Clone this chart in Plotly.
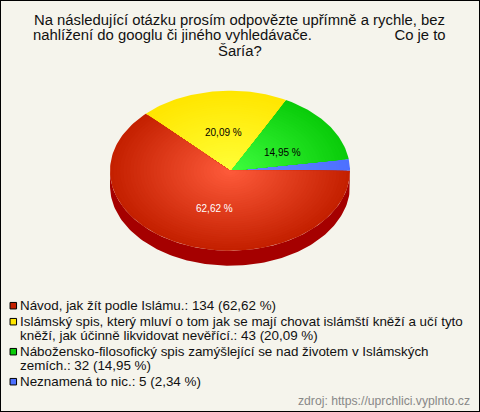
import math
import plotly.graph_objects as go

# ---- data ----
categories = [
    "Neznamená to nic.",
    "Nábožensko-filosofický spis",
    "Islámský spis",
    "Návod, jak žít podle Islámu.",
]
counts = [5, 32, 43, 134]
percent_texts = ["2,34 %", "14,95 %", "20,09 %", "62,62 %"]
title_lines = [
    "Na následující otázku prosím odpovězte upřímně a rychle, bez",
    "nahlížení do googlu či jiného vyhledávače.\u00a0\u00a0\u00a0\u00a0\u00a0\u00a0\u00a0\u00a0\u00a0\u00a0\u00a0\u00a0\u00a0\u00a0\u00a0\u00a0\u00a0\u00a0\u00a0\u00a0Co je to",
    "Šaría?",
]
legend_items = [
    ["Návod, jak žít podle Islámu.: 134 (62,62 %)"],
    ["Islámský spis, který mluví o tom jak se mají chovat islámští kněží a učí tyto",
     "kněží, jak účinně likvidovat nevěřící.: 43 (20,09 %)"],
    ["Nábožensko-filosofický spis zamýšlející se nad životem v Islámských",
     "zemích.: 32 (14,95 %)"],
    ["Neznamená to nic.: 5 (2,34 %)"],
]
source_text = "zdroj: https://uprchlici.vyplnto.cz"

# ---- style ----
BG = "#F5F4EC"
inner_colors = [(0x66, 0x88, 0xFF), (0x40, 0xFF, 0x40), (0xFF, 0xFF, 0x38), (0xFF, 0x5C, 0x3C)]
outer_colors = [(0x4D, 0x70, 0xFF), (0x0A, 0xCC, 0x0A), (0xFF, 0xE6, 0x00), (0xC4, 0x20, 0x00)]
legend_colors = ["#C42000", "#FFE600", "#0ACC0A", "#4D70FF"]
SIDE = "#A50000"
CX, CY, RX, RY, DEPTH = 230, 170.7, 120, 80, 15
RINGS = 36
label_xy = [None, (282, 152), (223.5, 132), (214, 208)]
label_col = ["black", "black", "black", "white"]
legend_y = [305.7, 321.7, 335.7, 351.7, 365.7, 381.7]
FONT = "Liberation Sans, Arial, sans-serif"

fig = go.Figure()
total = sum(counts)


def arc(a0, a1, s=1.0, dy=0.0):
    n = max(2, int(abs(a1 - a0) / 1.5))
    xs, ys = [], []
    for i in range(n + 1):
        a = math.radians(a0 + (a1 - a0) * i / n)
        xs.append(CX + s * RX * math.cos(a))
        ys.append(CY + dy - s * RY * math.sin(a))
    return xs, ys


def poly(xs, ys, color):
    fig.add_trace(go.Scatter(x=xs, y=ys, mode="lines", fill="toself", fillcolor=color,
                             line=dict(width=0, color=color), hoverinfo="skip", showlegend=False))


# side of the pie: every slice part in the lower half
start = 0.0
for c in counts:
    end = start + c / total * 360
    lo, hi = max(start, 180), min(end, 360)
    if hi > lo:
        xa, ya = arc(lo, hi)
        xb, yb = arc(hi, lo, dy=DEPTH)
        poly(xa + xb, ya + yb, SIDE)
    start = end

# top surface with a radial gradient built from nested wedges
start = 0.0
for idx, c in enumerate(counts):
    end = start + c / total * 360
    for k in range(RINGS, 0, -1):
        t = k / RINGS
        col = tuple(round(inner_colors[idx][j] + (outer_colors[idx][j] - inner_colors[idx][j]) * t) for j in range(3))
        xa, ya = arc(start, end, s=t)
        poly([CX] + xa + [CX], [CY] + ya + [CY], "rgb(%d,%d,%d)" % col)
    start = end

ann = []
for i, pt in enumerate(percent_texts):
    if label_xy[i]:
        ann.append(dict(x=label_xy[i][0], y=label_xy[i][1], text=pt, showarrow=False,
                        font=dict(family=FONT, size=10, color=label_col[i])))
for i, line in enumerate(title_lines):
    ann.append(dict(x=239.5, y=20.3 + i * 15.1, text=line, showarrow=False,
                    font=dict(family=FONT, size=14.85, color="#111111")))
row = 0
sw_x, sw_y = [], []
for i, item in enumerate(legend_items):
    sw_x.append(13.3)
    sw_y.append(legend_y[row])
    for line in item:
        ann.append(dict(x=17.5, y=legend_y[row], xanchor="left", text=line, showarrow=False,
                        font=dict(family=FONT, size=13.4, color="#111111")))
        row += 1
fig.add_trace(go.Scatter(x=sw_x, y=sw_y, mode="markers", hoverinfo="skip", showlegend=False,
                         marker=dict(symbol="square", size=6.5, color=legend_colors,
                                     line=dict(color="black", width=1))))
ann.append(dict(x=471.5, y=401, xanchor="right", text=source_text, showarrow=False,
                font=dict(family=FONT, size=12.2, color="#888888")))

fig.update_layout(
    width=480, height=412, autosize=False,
    margin=dict(l=0, r=0, t=0, b=0),
    paper_bgcolor=BG, plot_bgcolor=BG,
    xaxis=dict(range=[0, 480], visible=False, fixedrange=True),
    yaxis=dict(range=[412, 0], visible=False, fixedrange=True),
    annotations=ann,
    shapes=[dict(type="rect", xref="paper", yref="paper", x0=0, y0=0, x1=1, y1=1,
                 line=dict(color="black", width=2), fillcolor="rgba(0,0,0,0)")],
)
fig.write_html("out.html", config={"displayModeBar": False},
               post_script="document.body.style.margin='0';document.body.style.overflow='hidden';")
